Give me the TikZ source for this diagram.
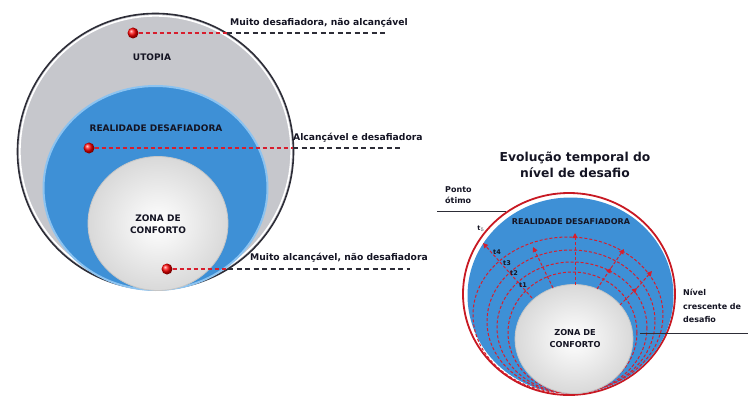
\documentclass[tikz,border=0pt]{standalone}
\usepackage{fontspec}
\setmainfont{DejaVu Sans}
\usetikzlibrary{arrows.meta}
\definecolor{grayfill}{RGB}{198,199,204}
\definecolor{bluefill}{RGB}{62,144,214}
\definecolor{bluerim}{RGB}{140,195,240}
\definecolor{dashred}{RGB}{215,30,45}
\definecolor{darkline}{RGB}{45,45,55}
\definecolor{ringred}{RGB}{200,25,35}
\definecolor{txt}{RGB}{20,20,35}
\begin{document}
\begin{tikzpicture}[x=1pt,y=-1pt,
  lbl/.style={font=\bfseries\fontsize{9.2}{10}\selectfont, text=txt, inner sep=0, anchor=west},
  zone/.style={font=\bfseries\fontsize{9}{12}\selectfont, text=txt, align=center, inner sep=0},
  dot/.style={circle, inner sep=0, minimum size=11pt, ball color=red},
  reddash/.style={dashred, line width=1.4pt, dash pattern=on 4pt off 3pt},
  blackdash/.style={darkline, line width=1.3pt, dash pattern=on 5pt off 3.5pt},
  radial/.style={dashred, line width=1pt, dash pattern=on 3pt off 2pt, -{Triangle[length=5pt,width=5pt]}},
  arcline/.style={dashred, line width=1pt, dash pattern=on 3pt off 2pt},
  tl/.style={font=\bfseries\fontsize{6.5}{7}\selectfont, text=txt, inner sep=0},
  small/.style={font=\bfseries\fontsize{8}{11}\selectfont, text=txt, align=left, inner sep=0, anchor=north west},
  pointer/.style={darkline, line width=1pt}]
\useasboundingbox (0,0) rectangle (748,396);
\fill[white] (0,0) rectangle (748,396);

% ---------- left diagram ----------
\draw[darkline, line width=1.6pt, fill=grayfill] (155.5,151.5) circle [radius=138];
\draw[white, line width=1.6pt] (155.5,151.5) circle [radius=135.6];
\draw[bluerim, line width=2pt, fill=bluefill] (155.5,188) ellipse [x radius=112, y radius=102];
\shade[inner color=white, outer color=gray!30, draw=gray!45, line width=0.8pt] (158,223.5) ellipse [x radius=70, y radius=67];

\node[zone] (utopia) at (152,57) {UTOPIA};
\node[zone] (real) at (156,128) {REALIDADE DESAFIADORA};
\node[zone] (zona) at (158,224) {ZONA DE\\CONFORTO};

\node[dot] (d1) at (133,33) {};
\node[dot] (d2) at (89,148) {};
\node[dot] (d3) at (167,269) {};

\coordinate (e1) at (227,33);
\coordinate (f1) at (388,33);
\coordinate (e2) at (293,148);
\coordinate (f2) at (402,148);
\coordinate (e3) at (228,269);
\coordinate (f3) at (410,269);

\draw[reddash] (d1) -- (e1);
\draw[blackdash] (e1) -- (f1);
\draw[reddash] (d2) -- (e2);
\draw[blackdash] (e2) -- (f2);
\draw[reddash] (d3) -- (e3);
\draw[blackdash] (e3) -- (f3);

\node[lbl] (l1) at (230,23) {Muito desafiadora, não alcançável};
\node[lbl] (l2) at (293,138) {Alcançável e desafiadora};
\node[lbl] (l3) at (250,258) {Muito alcançável, não desafiadora};

% ---------- right diagram ----------
\node[font=\bfseries\fontsize{12.3}{16}\selectfont, text=txt, align=center, inner sep=0] (title) at (575,165) {Evolução temporal do\\nível de desafio};

\draw[ringred, line width=1.8pt, fill=white] (569,294) ellipse [x radius=106, y radius=101];
\fill[bluefill] (570.5,295.5) ellipse [x radius=103, y radius=98];

\draw[arcline] (572.5,332.5) ellipse [x radius=64.5, y radius=60.5];
\draw[arcline] (572,327.5) ellipse [x radius=75, y radius=65.5];
\draw[arcline] (571,321.5) ellipse [x radius=84, y radius=71.5];
\draw[arcline] (568,315) ellipse [x radius=95, y radius=78];

\shade[inner color=white, outer color=gray!30, draw=gray!45, line width=0.8pt] (574,339) ellipse [x radius=59, y radius=54.5];

\coordinate (s1) at (532,298); \coordinate (t1e) at (483,243);
\coordinate (s2) at (553,288); \coordinate (t2e) at (533,247);
\coordinate (s3) at (575,285); \coordinate (t3e) at (575,233);
\coordinate (s4) at (597,289); \coordinate (m4) at (611,268); \coordinate (t4e) at (624,249);
\coordinate (s5) at (620,305); \coordinate (m5) at (637,288); \coordinate (t5e) at (652,271);

\draw[radial] (s1) -- (t1e);
\draw[radial] (s2) -- (t2e);
\draw[radial] (s3) -- (t3e);
\draw[radial] (s4) -- (m4);
\draw[radial] (m4) -- (t4e);
\draw[radial] (s5) -- (m5);
\draw[radial] (m5) -- (t5e);

\node[tl] (lt5) at (481,229) {t$_5$};
\node[tl] (lt4) at (497,252) {t4};
\node[tl] (lt3) at (507,263) {t3};
\node[tl] (lt2) at (514,273) {t2};
\node[tl] (lt1) at (523,285) {t1};

\node[font=\bfseries\fontsize{8}{9}\selectfont, text=txt, inner sep=0] (real2) at (571,222) {REALIDADE DESAFIADORA};
\node[font=\bfseries\fontsize{8.2}{12}\selectfont, text=txt, align=center, inner sep=0] (zona2) at (575,339) {ZONA DE\\CONFORTO};

\node[small] (ponto) at (445,186) {Ponto\\ótimo};
\coordinate (p0) at (437,211);
\coordinate (p1) at (506,211);
\draw[pointer] (p0) -- (p1);

\node[small, font=\bfseries\fontsize{8}{13.5}\selectfont] (nivel) at (683,289) {Nível\\crescente de\\desafio};
\coordinate (n0) at (640,333);
\coordinate (n1) at (748,333);
\draw[pointer] (n0) -- (n1);
\end{tikzpicture}
\end{document}
